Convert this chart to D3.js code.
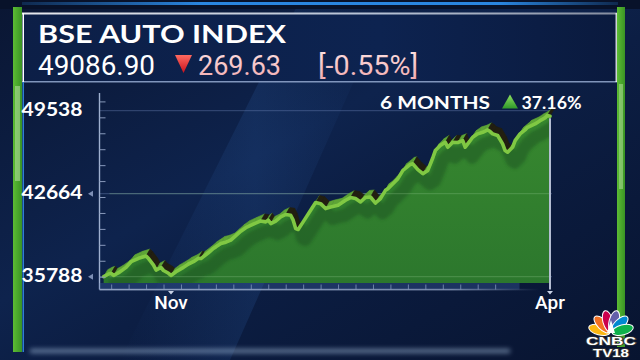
<!DOCTYPE html>
<html>
<head>
<meta charset="utf-8">
<script src="https://cdn.jsdelivr.net/npm/d3@7"></script>
<style>
  html, body { margin: 0; padding: 0; background: #0a1736; }
  svg { display: block; }
</style>
</head>
<body>
<div id="chart"></div>
<script>
// values (BSE Auto, last 6 months)
var dates = [
  "2023-10-05","2023-10-07","2023-10-08","2023-10-09","2023-10-11","2023-10-14","2023-10-16","2023-10-19",
  "2023-10-22","2023-10-23","2023-10-25","2023-10-26","2023-10-28","2023-10-29","2023-10-31","2023-11-01",
  "2023-11-03","2023-11-06","2023-11-08","2023-11-10","2023-11-12","2023-11-13","2023-11-16","2023-11-18",
  "2023-11-19","2023-11-21","2023-11-23","2023-11-25","2023-11-27","2023-11-29","2023-12-01","2023-12-04",
  "2023-12-07","2023-12-09","2023-12-10","2023-12-11","2023-12-13","2023-12-15","2023-12-17","2023-12-19",
  "2023-12-20","2023-12-21","2023-12-22","2023-12-24","2023-12-27","2023-12-29","2023-12-31","2024-01-02",
  "2024-01-04","2024-01-07","2024-01-10","2024-01-12","2024-01-14","2024-01-16","2024-01-18","2024-01-20",
  "2024-01-22","2024-01-24","2024-01-26","2024-01-27","2024-01-29","2024-01-31","2024-02-02","2024-02-05",
  "2024-02-06","2024-02-08","2024-02-10","2024-02-12","2024-02-14","2024-02-15","2024-02-17","2024-02-19",
  "2024-02-20","2024-02-22","2024-02-24","2024-02-26","2024-02-27","2024-02-28","2024-03-01","2024-03-03",
  "2024-03-05","2024-03-07","2024-03-08","2024-03-09","2024-03-11","2024-03-13","2024-03-14","2024-03-15",
  "2024-03-17","2024-03-18","2024-03-20","2024-03-22","2024-03-23","2024-03-26","2024-03-28","2024-03-30",
  "2024-03-31","2024-04-01"
];
var closes = [
  35788,36010,36070,35890,36120,36560,37030,37310,
  37500,37290,36750,36340,36550,36300,36070,35890,
  36200,36560,36840,37030,37310,37290,37770,38130,
  38260,38540,38650,38820,39190,39560,39850,40140,
  40410,40330,40470,40190,40400,40740,40940,40880,
  40470,39780,39700,40330,41290,41930,41840,41430,
  41560,41700,42120,42340,42260,41980,42350,42390,
  41890,42260,42940,43080,43490,43910,44590,45090,
  45140,44650,44320,44590,45640,46240,46650,46920,
  46510,46920,46900,47060,46510,46790,47340,47620,
  47750,47950,47810,47620,47480,46790,46240,46100,
  46510,47060,47620,47950,48160,48440,48710,48940,
  49150,49087
];
var yLabels = [35788, 42664, 49538];
var xLabelDates = ["2023-11-01", "2024-04-01"];
var xLabelText = ["Nov", "Apr"];
var yMinorStep = 1320;

var indexName = "BSE AUTO INDEX";
var lastClose = "49086.90";
var pointChange = "269.63";
var pctChange = "[-0.55%]";
var periodName = "6 MONTHS";
var periodChange = "37.16%";

var parse = d3.timeParse("%Y-%m-%d");
var series = dates.map(function(d, i) { return {date: parse(d), value: closes[i]}; });

var W = 640, H = 360;
var axisX = 99.5, axisY = 289.5, fillBase = 283;

var svg = d3.select("#chart").append("svg")
  .attr("width", W).attr("height", H);
var defs = svg.append("defs");

// scales
var x = d3.scaleTime()
  .domain([parse(xLabelDates[0]), parse(xLabelDates[1])])
  .range([171, 550]);
var y = d3.scaleLinear()
  .domain([yLabels[0], yLabels[2]])
  .range([276.7, 110.7]);

// ---------- gradients ----------
function linGrad(id, x1, y1, x2, y2, stops) {
  var gr = defs.append("linearGradient").attr("id", id)
    .attr("x1", x1).attr("y1", y1).attr("x2", x2).attr("y2", y2);
  stops.forEach(function(s) {
    gr.append("stop").attr("offset", s[0]).attr("stop-color", s[1])
      .attr("stop-opacity", s[2] === undefined ? 1 : s[2]);
  });
}
linGrad("bg", 0, 0, 1, 1, [[0, "#0a1633"], [0.42, "#0e234d"], [0.55, "#0c1e44"], [1, "#081430"]]);
linGrad("streak", 0, 0, 1, 0, [[0, "#2a5aa0", 0], [0.5, "#2a5aa0", 0.22], [1, "#2a5aa0", 0]]);
linGrad("head", 0, 0, 1, 0, [[0, "#0c1f47"], [0.6, "#0d2350"], [1, "#0a1a3e"]]);
linGrad("topbar", 0, 0, 1, 0, [[0, "#2a86e0", 0.2], [0.3, "#2a86e0"], [0.8, "#2a86e0"], [1, "#2a86e0", 0.2]]);
linGrad("whiteLine", 0, 0, 1, 0, [[0, "#ffffff", 0.9], [0.6, "#dfe8f5", 0.8], [1, "#ffffff", 0.5]]);
linGrad("fillG", 0, 0, 0, 1, [[0, "#37882f"], [1, "#2c772d"]]);
linGrad("axisFade", 0, 0, 1, 0, [[0, "#9fb0d0", 0.9], [0.8, "#9fb0d0", 0.7], [1, "#9fb0d0", 0]]);
linGrad("novLine", 0, 0, 0, 1, [[0, "#ffffff", 0.2], [0.3, "#e8eefa", 0.8], [1, "#ffffff", 0.95]]);
linGrad("redTri", 0, 0, 0, 1, [[0, "#ff6a60"], [1, "#c8101c"]]);
linGrad("pink", 0, 0, 0, 1, [[0, "#fde4e4"], [1, "#f2a9ae"]]);
linGrad("greenTri", 0, 0, 0, 1, [[0, "#8fe060"], [1, "#2f9a2a"]]);
linGrad("barGreen", 0, 0, 1, 0, [[0, "#5cbc34"], [1, "#3a9424"]]);

var blur = defs.append("filter").attr("id", "blur").attr("x", "-20%").attr("y", "-200%")
  .attr("width", "140%").attr("height", "500%");
blur.append("feGaussianBlur").attr("stdDeviation", 2.5);
var soft = defs.append("filter").attr("id", "soft").attr("x", "-10%").attr("y", "-10%")
  .attr("width", "120%").attr("height", "120%");
soft.append("feGaussianBlur").attr("stdDeviation", 1.6);

// ---------- background ----------
svg.append("rect").attr("width", W).attr("height", H).attr("fill", "url(#bg)");
svg.append("path")
  .attr("d", "M300,0 L390,0 L230,360 L120,360 Z")
  .attr("fill", "url(#streak)");
svg.append("rect").attr("x", 0).attr("y", 0).attr("width", W).attr("height", 9).attr("fill", "#08122a");
svg.append("rect").attr("x", 22).attr("y", 2).attr("width", 596).attr("height", 3).attr("fill", "url(#topbar)");

// bottom glow
svg.append("rect").attr("x", 30).attr("y", 349).attr("width", 480).attr("height", 4)
  .attr("fill", "#b8d2f0").attr("opacity", 0.55).attr("filter", "url(#blur)");

// ---------- header ----------
svg.append("rect").attr("x", 22).attr("y", 13).attr("width", 596).attr("height", 69).attr("fill", "url(#head)");
svg.append("rect").attr("x", 22).attr("y", 12.5).attr("width", 596).attr("height", 2).attr("fill", "url(#whiteLine)");
svg.append("rect").attr("x", 22).attr("y", 81).attr("width", 596).attr("height", 1.5).attr("fill", "#9db3d8").attr("opacity", 0.8);

// side bars
svg.append("rect").attr("x", 13).attr("y", 7).attr("width", 9).attr("height", 345).attr("fill", "url(#barGreen)");
svg.append("rect").attr("x", 15).attr("y", 86).attr("width", 5).attr("height", 95).attr("fill", "#b9e0a6").attr("opacity", 0.55);
svg.append("rect").attr("x", 22.5).attr("y", 13).attr("width", 1.5).attr("height", 69).attr("fill", "#ffffff");
svg.append("rect").attr("x", 22.5).attr("y", 82).attr("width", 1.5).attr("height", 270).attr("fill", "#2f80d2");
svg.append("rect").attr("x", 617).attr("y", 7).attr("width", 8).attr("height", 340).attr("fill", "url(#barGreen)");
svg.append("rect").attr("x", 619).attr("y", 84).attr("width", 4).attr("height", 105).attr("fill", "#b9e0a6").attr("opacity", 0.5);
svg.append("rect").attr("x", 615.5).attr("y", 13).attr("width", 1.5).attr("height", 69).attr("fill", "#ffffff").attr("opacity", 0.8);

svg.append("text").text(indexName)
  .attr("x", 38).attr("y", 43)
  .attr("font-family", "Lato").attr("font-weight", 700).attr("font-size", 25)
  .attr("textLength", 248).attr("lengthAdjust", "spacingAndGlyphs")
  .attr("fill", "#ffffff");

svg.append("text").text(lastClose)
  .attr("x", 38).attr("y", 74.5)
  .attr("font-family", "Roboto").attr("font-size", 28)
  .attr("textLength", 117).attr("lengthAdjust", "spacingAndGlyphs")
  .attr("fill", "#ffffff");

svg.append("path").attr("d", "M175,55 L192,55 L183.5,73 Z").attr("fill", "url(#redTri)");

svg.append("text").text(pointChange)
  .attr("x", 198).attr("y", 74.5)
  .attr("font-family", "Roboto").attr("font-size", 28)
  .attr("textLength", 83).attr("lengthAdjust", "spacingAndGlyphs")
  .attr("fill", "url(#pink)");

svg.append("text").text(pctChange)
  .attr("x", 318).attr("y", 74.5)
  .attr("font-family", "Roboto").attr("font-size", 28)
  .attr("textLength", 100).attr("lengthAdjust", "spacingAndGlyphs")
  .attr("fill", "url(#pink)");

// ---------- chart ----------
var g = svg.append("g");

// gridlines at the labelled levels
g.selectAll(".grid").data(yLabels).join("line")
  .attr("class", "grid")
  .attr("x1", axisX).attr("x2", 552)
  .attr("y1", function(d) { return y(d); }).attr("y2", function(d) { return y(d); })
  .attr("stroke", "#6f86b8").attr("stroke-opacity", 0.45).attr("stroke-width", 1);

var area = d3.area()
  .x(function(d) { return x(d.date); })
  .y0(fillBase)
  .y1(function(d) { return y(d.value); });

var line = d3.line()
  .x(function(d) { return x(d.date); })
  .y(function(d) { return y(d.value); });

defs.append("clipPath").attr("id", "areaClip")
  .append("path").attr("d", area(series));

g.append("path").attr("d", area(series)).attr("fill", "url(#fillG)");

// shadow cast by the ribbon onto the fill
g.append("g").attr("clip-path", "url(#areaClip)")
  .append("path").attr("d", line(series))
  .attr("transform", "translate(7,10)")
  .attr("fill", "none").attr("stroke", "#1d5320").attr("stroke-width", 13)
  .attr("stroke-linejoin", "round").attr("opacity", 0.5)
  .attr("filter", "url(#soft)");

g.selectAll(".gridOver").data(yLabels.slice(0, 2)).join("line")
  .attr("class", "gridOver")
  .attr("x1", axisX + 10).attr("x2", 550)
  .attr("y1", function(d) { return y(d); }).attr("y2", function(d) { return y(d); })
  .attr("stroke", "#8fc28a").attr("stroke-opacity", 0.35);

// 3D ribbon faces behind the line
var pts = series.map(function(d) { return [x(d.date), y(d.value)]; });
var off = [4, -7];
g.selectAll(".face").data(d3.pairs(pts)).join("path")
  .attr("class", "face")
  .attr("d", function(s) {
    return "M" + s[0] + "L" + s[1] +
      "L" + [s[1][0] + off[0], s[1][1] + off[1]] +
      "L" + [s[0][0] + off[0], s[0][1] + off[1]] + "Z";
  })
  .attr("fill", function(s) { return s[1][1] > s[0][1] ? "#221f10" : "#5ea536"; })
  .attr("stroke", function(s) { return s[1][1] > s[0][1] ? "#221f10" : "#5ea536"; })
  .attr("stroke-width", 0.6);

g.append("path").attr("d", line(series))
  .attr("fill", "none").attr("stroke", "#80c843").attr("stroke-width", 3.6)
  .attr("stroke-linejoin", "round").attr("stroke-linecap", "round");

// month markers
var marks = xLabelDates.map(function(d, i) { return {date: parse(d), label: xLabelText[i]}; });
g.append("line")
  .attr("x1", x(marks[0].date)).attr("x2", x(marks[0].date))
  .attr("y1", 113).attr("y2", axisY)
  .attr("stroke", "url(#novLine)").attr("stroke-width", 1.6);
g.append("line")
  .attr("x1", x(marks[1].date)).attr("x2", x(marks[1].date))
  .attr("y1", y(closes[closes.length - 1]) + 2).attr("y2", axisY)
  .attr("stroke", "#b4bdd2").attr("stroke-width", 2);

// y axis: line + minor ticks
g.append("line").attr("x1", axisX).attr("x2", axisX).attr("y1", 93).attr("y2", axisY)
  .attr("stroke", "#9fb0d0").attr("stroke-width", 1.4);
var yAxis = d3.axisRight(y)
  .tickValues(d3.range(yLabels[0], yLabels[2] + yMinorStep, yMinorStep))
  .tickSize(6).tickFormat("");
var ya = g.append("g").attr("transform", "translate(" + axisX + ",0)").call(yAxis);
ya.select(".domain").remove();
ya.selectAll(".tick line").attr("stroke", "#8899bb").attr("stroke-width", 1);

// x axis: line + weekly ticks
g.append("rect").attr("x", axisX).attr("y", fillBase).attr("width", 420).attr("height", axisY - fillBase)
  .attr("fill", "#3f64a8").attr("opacity", 0.35);
g.append("rect").attr("x", axisX).attr("y", axisY - 0.7).attr("width", 440).attr("height", 1.6)
  .attr("fill", "url(#axisFade)");
var xAxis = d3.axisTop(x)
  .tickValues(d3.timeWeek.range(parse("2023-10-08"), parse("2024-03-15")))
  .tickSize(5).tickFormat("");
var xa = g.append("g").attr("transform", "translate(0," + axisY + ")").call(xAxis);
xa.select(".domain").remove();
xa.selectAll(".tick line").attr("stroke", "#8fa2c8").attr("stroke-opacity", 0.7);

// little pointers under the month markers and beside the y labels
g.selectAll(".xptr").data(marks).join("path")
  .attr("d", function(d) { var px = x(d.date); return "M" + (px - 3) + "," + (axisY + 1.5) + "L" + (px + 3) + "," + (axisY + 1.5) + "L" + px + "," + (axisY + 5) + "Z"; })
  .attr("fill", "#c9d2e6");
g.selectAll(".yptr").data(yLabels.slice(0, 2)).join("path")
  .attr("d", function(d) { var py = y(d); return "M88," + py + "L93," + (py - 3) + "L93," + (py + 3) + "Z"; })
  .attr("fill", "#7d8fb5");

// labels
g.selectAll(".ylab").data(yLabels).join("text")
  .attr("class", "ylab")
  .text(function(d) { return d; })
  .attr("x", 21.5).attr("y", function(d) { return y(d) + 5.4; })
  .attr("font-family", "Lato").attr("font-weight", 700).attr("font-size", 19)
  .attr("textLength", 61).attr("lengthAdjust", "spacingAndGlyphs")
  .attr("fill", "#ffffff");

g.selectAll(".xlab").data(marks).join("text")
  .attr("class", "xlab")
  .text(function(d) { return d.label; })
  .attr("x", function(d) { return x(d.date); }).attr("y", 309)
  .attr("text-anchor", "middle")
  .attr("font-family", "Roboto").attr("font-weight", 500).attr("font-size", 19)
  .attr("fill", "#ffffff");

// period change
svg.append("text").text(periodName)
  .attr("x", 380).attr("y", 108.5)
  .attr("font-family", "Lato").attr("font-weight", 700).attr("font-size", 16.5)
  .attr("textLength", 110).attr("lengthAdjust", "spacingAndGlyphs")
  .attr("fill", "#ffffff");
svg.append("path").attr("d", "M502,108.5 L518,108.5 L510,94.5 Z").attr("fill", "url(#greenTri)");
svg.append("text").text(periodChange)
  .attr("x", 521.5).attr("y", 108.5)
  .attr("font-family", "Lato").attr("font-weight", 700).attr("font-size", 16.5)
  .attr("textLength", 60).attr("lengthAdjust", "spacingAndGlyphs")
  .attr("fill", "#ffffff");

// ---------- CNBC TV18 bug ----------
var logo = svg.append("g").attr("transform", "translate(611,333)");
var feathers = ["#fcb711", "#f37021", "#cc004c", "#6460aa", "#0089d0", "#0db14b"];
feathers.forEach(function(c, i) {
  var ang = -75 + i * 30;
  logo.append("ellipse")
    .attr("cx", 0).attr("cy", -12).attr("rx", 5).attr("ry", 11)
    .attr("transform", "rotate(" + ang + ")")
    .attr("fill", c).attr("stroke", "#ffffff").attr("stroke-width", 1);
});
logo.append("path").attr("d", "M-4,0 L0,-13 L4,0 Z").attr("fill", "#ffffff");
logo.append("text").text("CNBC").attr("x", 0).attr("y", 12)
  .attr("text-anchor", "middle")
  .attr("font-family", "Liberation Sans").attr("font-weight", 700).attr("font-size", 11)
  .attr("textLength", 50).attr("lengthAdjust", "spacingAndGlyphs")
  .attr("fill", "#ffffff").attr("stroke", "#333").attr("paint-order", "stroke").attr("stroke-width", 1.5);
logo.append("text").text("TV18").attr("x", 0).attr("y", 23.5)
  .attr("text-anchor", "middle")
  .attr("font-family", "Liberation Sans").attr("font-weight", 700).attr("font-size", 10)
  .attr("textLength", 36).attr("lengthAdjust", "spacingAndGlyphs")
  .attr("fill", "#ffffff").attr("stroke", "#333").attr("paint-order", "stroke").attr("stroke-width", 1.5);
</script>
</body>
</html>
